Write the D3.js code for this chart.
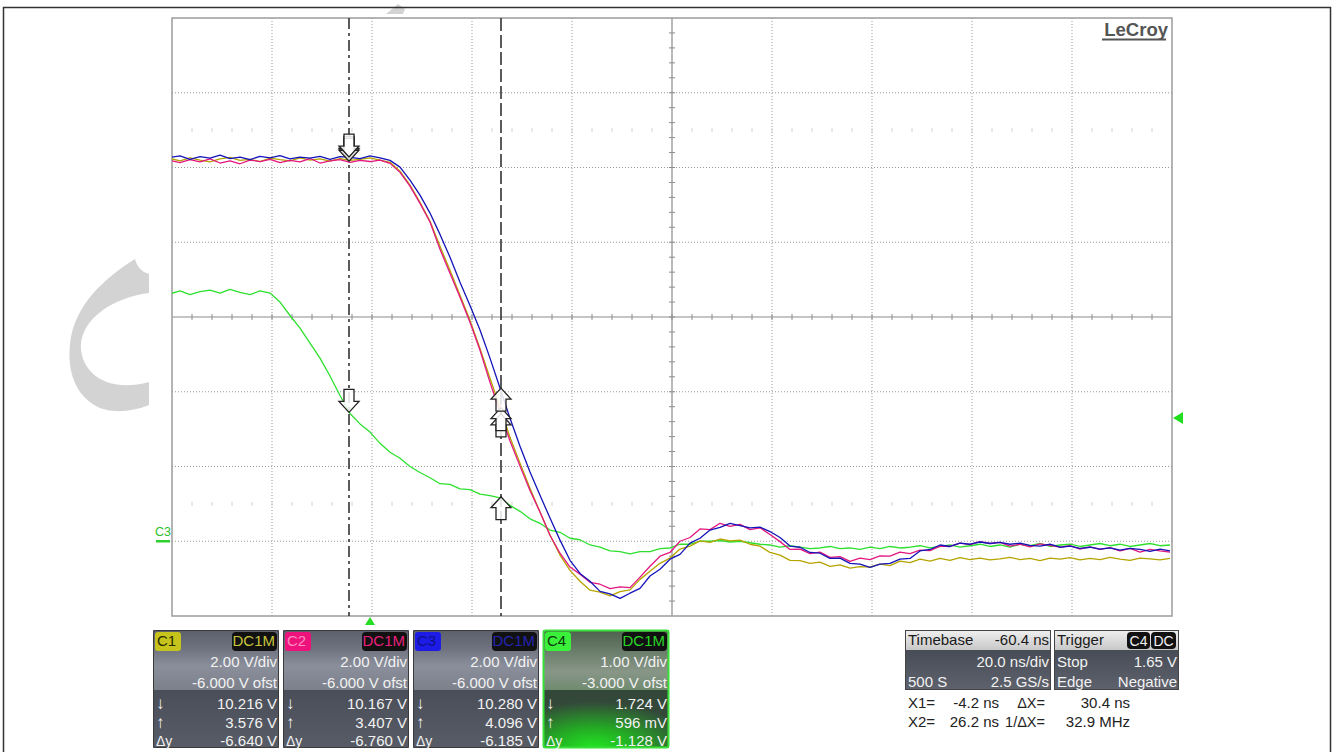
<!DOCTYPE html>
<html>
<head>
<meta charset="utf-8">
<script src="https://cdn.jsdelivr.net/npm/d3@7"></script>
<style>
    body { margin: 0; background: #fff; }
    svg { display: block; }
    text { font-family: "Liberation Sans", Arial, sans-serif; }
</style>
</head>
<body>
<div id="scope"></div>
<script>
// sample times in ns (2 ns apart), shared by all channels
var timeNs = [-40,-38,-36,-34,-32,-30,-28,-26,-24,-22,-20,-18,-16,-14,-12,-10,-8,-6,-4,-2,
    0,2,4,6,8,10,12,14,16,18,20,22,24,26,28,30,32,34,36,38,40,42,44,46,48,50,52,54,56,58,
    60,62,64,66,68,70,72,74,76,78,80,82,84,86,88,90,92,94,96,98,100,102,104,106,108,110,
    112,114,116,118,120,122,124,126,128,130,132,134,136,138,140,142,144,146,148,150,152,154,156,158,160];

// volts
var c1Volts = [10.24,10.18,10.26,10.20,10.15,10.23,10.27,10.19,10.22,10.16,10.25,10.21,10.18,10.26,10.20,10.23,10.17,10.24,10.19,10.22,10.26,10.20,
    10.14,9.90,9.53,9.07,8.56,7.89,7.25,6.58,5.91,5.16,4.36,3.59,2.78,2.09,1.42,0.78,0.16,-0.37,-0.78,-1.07,-1.31,-1.36,-1.46,-1.35,-1.30,-1.02,-0.80,-0.59,-0.45,-0.21,-0.13,0.01,-0.03,0.06,0.01,0.03,-0.08,-0.13,-0.30,-0.37,-0.51,-0.52,-0.59,-0.56,-0.67,-0.63,-0.72,-0.68,-0.69,-0.61,-0.65,-0.53,-0.57,-0.48,-0.53,
    -0.46,-0.51,-0.44,-0.49,-0.45,-0.50,-0.47,-0.43,-0.49,-0.46,-0.52,-0.45,-0.48,-0.44,-0.50,-0.46,-0.49,-0.43,-0.48,-0.51,-0.45,-0.47,-0.50,-0.46];
var c2Volts = [10.19,10.13,10.21,10.15,10.23,10.12,10.18,10.10,10.20,10.16,10.22,10.13,10.19,10.15,10.24,10.12,10.18,10.21,10.14,10.19,10.16,10.20,
    10.11,9.87,9.50,9.04,8.54,7.81,7.17,6.53,5.86,5.11,4.25,3.45,2.68,2.01,1.36,0.78,0.16,-0.32,-0.69,-0.88,-1.10,-1.15,-1.27,-1.22,-1.24,-0.96,-0.67,-0.40,-0.30,0.00,0.10,0.33,0.31,0.48,0.40,0.45,0.31,0.36,0.18,-0.01,-0.22,-0.21,-0.33,-0.29,-0.43,-0.41,-0.54,-0.45,-0.49,-0.39,-0.40,-0.29,-0.33,-0.24,-0.25,-0.13,-0.14,-0.05,-0.09,-0.01,-0.06,-0.03,-0.13,-0.08,-0.15,-0.07,-0.11,-0.16,-0.12,-0.21,-0.15,-0.22,-0.17,-0.26,-0.19,-0.29,-0.22,-0.26,-0.29];
var c3Volts = [10.27,10.31,10.22,10.29,10.25,10.33,10.24,10.28,10.21,10.30,10.26,10.32,10.23,10.28,10.25,10.30,10.22,10.29,10.27,10.24,10.31,10.26,
    10.19,10.01,9.66,9.26,8.78,8.21,7.60,6.93,6.31,5.65,4.90,4.10,3.29,2.54,1.85,1.23,0.62,0.03,-0.51,-0.86,-1.07,-1.34,-1.41,-1.53,-1.39,-1.26,-0.93,-0.75,-0.48,-0.35,-0.05,0.08,0.30,0.37,0.48,0.42,0.36,0.38,0.26,0.10,-0.13,-0.16,-0.30,-0.32,-0.46,-0.45,-0.59,-0.61,-0.70,-0.61,-0.59,-0.48,-0.46,-0.26,-0.22,-0.10,-0.14,-0.05,-0.08,
    -0.02,-0.06,-0.03,-0.08,-0.05,-0.11,-0.13,-0.08,-0.16,-0.13,-0.19,-0.16,-0.21,-0.18,-0.24,-0.19,-0.22,-0.27,-0.21,-0.26];
var c4Volts = [3.31,3.35,3.30,3.34,3.36,3.32,3.37,3.33,3.30,3.35,3.32,
    3.20,3.02,2.85,2.65,2.45,2.21,1.95,1.71,1.57,1.46,1.31,1.19,1.11,1.00,0.92,0.85,0.77,0.76,0.70,0.69,0.63,0.61,0.58,0.48,0.40,0.30,0.24,0.15,0.12,0.04,0.02,-0.05,-0.08,-0.13,-0.14,-0.17,-0.14,-0.14,-0.10,-0.09,-0.04,-0.04,0.00,0.00,
    0.01,-0.01,0.00,-0.02,-0.04,-0.05,-0.08,-0.06,-0.08,-0.10,-0.09,-0.07,-0.10,-0.09,-0.11,-0.08,-0.10,-0.07,-0.09,-0.08,-0.06,-0.09,-0.07,-0.05,-0.08,-0.06,-0.04,-0.07,-0.05,-0.08,
    -0.04,-0.06,-0.03,-0.07,-0.05,-0.04,-0.07,-0.05,-0.03,-0.06,-0.04,-0.07,-0.05,-0.03,-0.06,-0.05];

var channelNames = ["C1", "C2", "C3", "C4"];
var voltsPerDiv = [2, 2, 2, 1];
var offsetVolts = [-6, -6, -6, -3];
var voltsDivLabels = ["2.00 V/div", "2.00 V/div", "2.00 V/div", "1.00 V/div"];
var offsetLabels = ["-6.000 V ofst", "-6.000 V ofst", "-6.000 V ofst", "-3.000 V ofst"];
// cursor readings (value at X1, value at X2, difference)
var atX1 = [10.216, 10.167, 10.280, 1.724];
var atX2 = [3.576, 3.407, 4.096, 0.596];
var atX1Labels = ["10.216 V", "10.167 V", "10.280 V", "1.724 V"];
var atX2Labels = ["3.576 V", "3.407 V", "4.096 V", "596 mV"];
var deltaLabels = ["-6.640 V", "-6.760 V", "-6.185 V", "-1.128 V"];

var cursorTimes = [-4.2, 26.2];
var triggerTime = 0;
var triggerLevel = 1.65;

var timebaseRows = [["Timebase", "-60.4 ns"], ["", "20.0 ns/div"], ["500 S", "2.5 GS/s"]];
var triggerRows = [["Trigger", ""], ["Stop", "1.65 V"], ["Edge", "Negative"]];
var cursorRows = [["X1=", "-4.2 ns", "\u0394X=", "30.4 ns"], ["X2=", "26.2 ns", "1/\u0394X=", "32.9 MHz"]];

var traceColors = ["#b5a400", "#e3177f", "#1414b8", "#2ee02e"];
var labelFill = ["#c6c41c", "#ee137c", "#1c1ce6", "#3af03a"];
var labelInk = ["#2a2a00", "#ff8cc0", "#10108a", "#0c3a0c"];
var couplingInk = ["#c8c43c", "#e8207c", "#2424b0", "#2ad42a"];

var plotL = 172, plotR = 1172, plotT = 18, plotB = 616;

var svg = d3.select("#scope").append("svg")
    .attr("width", 1336)
    .attr("height", 752);

var defs = svg.append("defs");
function vgrad(id, stops) {
    var lg = defs.append("linearGradient").attr("id", id)
        .attr("x1", 0).attr("y1", 0).attr("x2", 0).attr("y2", 1);
    stops.forEach(function(s) {
        lg.append("stop").attr("offset", s[0]).attr("stop-color", s[1]);
    });
}
vgrad("upperGrey", [["0%", "#5c606c"], ["30%", "#6e727e"], ["60%", "#8b8f9b"], ["100%", "#7c808b"]]);
vgrad("lowerGrey", [["0%", "#4a4e58"], ["100%", "#585c66"]]);
vgrad("upperGreen", [["0%", "#4d604d"], ["35%", "#6a7d6a"], ["70%", "#889688"], ["100%", "#6f8a6f"]]);
vgrad("tbHead", [["0%", "#f0f0f0"], ["100%", "#c8c8c8"]]);
vgrad("tbBody", [["0%", "#3c404a"], ["45%", "#4c505a"], ["100%", "#5e626c"]]);
var rg = defs.append("radialGradient").attr("id", "lowerGreen")
    .attr("cx", "40%").attr("cy", "100%").attr("r", "80%");
rg.append("stop").attr("offset", "0%").attr("stop-color", "#22e622");
rg.append("stop").attr("offset", "45%").attr("stop-color", "#24a824");
rg.append("stop").attr("offset", "100%").attr("stop-color", "#34483a");
defs.append("clipPath").attr("id", "plotClip")
    .append("rect").attr("x", plotL).attr("y", plotT).attr("width", plotR - plotL).attr("height", plotB - plotT);

// watermark pieces
svg.append("path")
    .attr("d", "M135,259 C137,267 142,272 149,274 L149,293 C112,298 84,318 81,343 C79,370 104,394 149,382 L149,405 C130,413 108,413 96,406 C76,395 67,372 70,344 C74,306 103,279 135,259 Z")
    .attr("fill", "#d3d3d3");
svg.append("path").attr("d", "M386,14 L398,4 L405,9 L403,14 Z").attr("fill", "#d3d3d3");

// outer frame
svg.append("rect")
    .attr("x", 3.5).attr("y", 7.5)
    .attr("width", 1327).attr("height", 746)
    .attr("fill", "none").attr("stroke", "#333").attr("stroke-width", 1.5);

var x = d3.scaleLinear().domain([-39.6, 160.4]).range([plotL, plotR]);
var divX = d3.scaleLinear().domain([0, 10]).range([plotL, plotR]);
var divY = d3.scaleLinear().domain([0, 8]).range([plotT, plotB]);
var yScales = voltsPerDiv.map(function(vpd, i) {
    var mid = -offsetVolts[i];
    return d3.scaleLinear().domain([mid - 4 * vpd, mid + 4 * vpd]).range([plotB, plotT]);
});

// grid
var grid = svg.append("g");
d3.range(1, 10).filter(function(d) { return d != 5; }).forEach(function(d) {
    grid.append("line")
        .attr("x1", divX(d)).attr("x2", divX(d)).attr("y1", plotT).attr("y2", plotB)
        .attr("stroke", "#999").attr("stroke-dasharray", "1,2");
});
d3.range(1, 8).filter(function(d) { return d != 4; }).forEach(function(d) {
    grid.append("line")
        .attr("x1", plotL).attr("x2", plotR).attr("y1", divY(d)).attr("y2", divY(d))
        .attr("stroke", "#999").attr("stroke-dasharray", "1,2");
});
// faint minor marks
[1.5, 6.5].forEach(function(r) {
    d3.range(1, 50).forEach(function(k) {
        grid.append("line")
            .attr("x1", divX(k / 5)).attr("x2", divX(k / 5))
            .attr("y1", divY(r) - 2).attr("y2", divY(r) + 2)
            .attr("stroke", "#d2d2d2");
    });
});
// centre axes with minor ticks
grid.append("line").attr("x1", plotL).attr("x2", plotR).attr("y1", divY(4)).attr("y2", divY(4))
    .attr("stroke", "#8c8c8c").attr("stroke-width", 1.2);
grid.append("line").attr("x1", divX(5)).attr("x2", divX(5)).attr("y1", plotT).attr("y2", plotB)
    .attr("stroke", "#8c8c8c").attr("stroke-width", 1.2);
d3.range(1, 50).forEach(function(k) {
    grid.append("line")
        .attr("x1", divX(k / 5)).attr("x2", divX(k / 5))
        .attr("y1", divY(4) - 3).attr("y2", divY(4) + 3)
        .attr("stroke", "#8c8c8c");
});
d3.range(1, 40).forEach(function(k) {
    grid.append("line")
        .attr("x1", divX(5) - 3).attr("x2", divX(5) + 3)
        .attr("y1", divY(k / 5)).attr("y2", divY(k / 5))
        .attr("stroke", "#8c8c8c");
});

// plot border
svg.append("rect")
    .attr("x", plotL).attr("y", plotT).attr("width", plotR - plotL).attr("height", plotB - plotT)
    .attr("fill", "none").attr("stroke", "#9c9c9c").attr("stroke-width", 1.5);

// LeCroy logo
svg.append("text")
    .attr("x", 1168).attr("y", 36)
    .attr("text-anchor", "end")
    .attr("font-size", 18.5).attr("font-weight", "bold")
    .attr("fill", "#555")
    .text("LeCroy");
svg.append("rect").attr("x", 1102).attr("y", 38.5).attr("width", 64).attr("height", 2).attr("fill", "#555");

// traces
var series = [c1Volts, c2Volts, c3Volts, c4Volts];
var traces = svg.append("g").attr("clip-path", "url(#plotClip)");
[3, 0, 1, 2].forEach(function(ch) {
    var line = d3.line()
        .x(function(d, i) { return x(timeNs[i]); })
        .y(function(d) { return yScales[ch](d); });
    traces.append("path")
        .datum(series[ch])
        .attr("d", line)
        .attr("fill", "none")
        .attr("stroke", traceColors[ch])
        .attr("stroke-width", 1.3)
        .attr("stroke-linejoin", "round");
});

// cursors
svg.append("line")
    .attr("x1", x(cursorTimes[0])).attr("x2", x(cursorTimes[0]))
    .attr("y1", plotT).attr("y2", plotB)
    .attr("stroke", "#333").attr("stroke-width", 1.6)
    .attr("stroke-dasharray", "11,4,3,4");
svg.append("line")
    .attr("x1", x(cursorTimes[1])).attr("x2", x(cursorTimes[1]))
    .attr("y1", plotT).attr("y2", plotB)
    .attr("stroke", "#333").attr("stroke-width", 1.6)
    .attr("stroke-dasharray", "13,4");

// hollow arrows, tip on the measured value
function arrow(cx, cy, dir) {
    var s = dir; // 1 = pointing down, -1 = pointing up
    var pts = [[0, 0], [-10, -11 * s], [-5, -11 * s], [-5, -23 * s], [5, -23 * s], [5, -11 * s], [10, -11 * s]];
    svg.append("path")
        .attr("d", "M" + pts.map(function(p) { return (cx + p[0]) + "," + (cy + p[1]); }).join("L") + "Z")
        .attr("fill", "#fff").attr("fill-opacity", 0.85)
        .attr("stroke", "#222").attr("stroke-width", 1.3);
}
[0, 1, 2, 3].forEach(function(ch) {
    arrow(x(cursorTimes[0]), yScales[ch](atX1[ch]), 1);
});
[3, 1, 0, 2].forEach(function(ch) {
    arrow(x(cursorTimes[1]), yScales[ch](atX2[ch]), -1);
});

// ground marker
var gnd = yScales[3](0);
svg.append("line").attr("x1", 156).attr("x2", 170).attr("y1", gnd).attr("y2", gnd)
    .attr("stroke", "#2ed02e").attr("stroke-width", 2.5);
svg.append("text").attr("x", 155).attr("y", gnd - 5)
    .attr("font-size", 12.5).attr("fill", "#2ec02e").text("C3");

// trigger markers
var tx = x(triggerTime);
svg.append("path")
    .attr("d", "M" + tx + "," + (plotB + 1) + "L" + (tx - 5) + "," + (plotB + 9) + "L" + (tx + 5) + "," + (plotB + 9) + "Z")
    .attr("fill", "#22dd22");
var ty = yScales[3](triggerLevel);
svg.append("path")
    .attr("d", "M" + (plotR + 1) + "," + ty + "L" + (plotR + 11) + "," + (ty - 6) + "L" + (plotR + 11) + "," + (ty + 6) + "Z")
    .attr("fill", "#22dd22");

// channel panels
channelNames.forEach(function(name, i) {
    var x0 = 153 + i * 130, w = 126;
    var green = (i == 3);
    var g = svg.append("g").attr("transform", "translate(" + x0 + ",630)");
    g.append("rect").attr("width", w).attr("height", 60)
        .attr("fill", green ? "url(#upperGreen)" : "url(#upperGrey)");
    g.append("rect").attr("y", 60).attr("width", w).attr("height", 58)
        .attr("fill", green ? "url(#lowerGreen)" : "url(#lowerGrey)");
    g.append("rect").attr("x", 0.5).attr("y", 0.5).attr("width", w - 1).attr("height", 117)
        .attr("rx", 2).attr("fill", "none")
        .attr("stroke", green ? "#38e038" : "#3a3a3a").attr("stroke-width", green ? 2 : 1);

    g.append("rect").attr("x", 2).attr("y", 2).attr("width", 26).attr("height", 19).attr("rx", 3)
        .attr("fill", labelFill[i]);
    g.append("text").attr("x", 4).attr("y", 16).attr("font-size", 15)
        .attr("fill", labelInk[i]).text(name);
    g.append("rect").attr("x", 79).attr("y", 2).attr("width", 45).attr("height", 19).attr("rx", 4)
        .attr("fill", "#111");
    g.append("text").attr("x", 122).attr("y", 16).attr("font-size", 15).attr("text-anchor", "end")
        .attr("fill", couplingInk[i]).text("DC1M");

    var rows = [voltsDivLabels[i], offsetLabels[i], atX1Labels[i], atX2Labels[i], deltaLabels[i]];
    var base = [37, 58, 79, 98, 116];
    rows.forEach(function(t, r) {
        g.append("text").attr("x", 124).attr("y", base[r]).attr("font-size", 15)
            .attr("text-anchor", "end").attr("fill", "#f2f2f2").text(t);
    });
    ["\u2193", "\u2191", "\u0394y"].forEach(function(t, r) {
        g.append("text").attr("x", 3).attr("y", base[r + 2]).attr("font-size", r < 2 ? 17 : 14)
            .attr("fill", "#f2f2f2").text(t);
    });
});

// timebase and trigger boxes
function infoBox(x0, w, rows) {
    var g = svg.append("g").attr("transform", "translate(" + x0 + ",630)");
    g.append("rect").attr("width", w).attr("height", 60).attr("fill", "url(#tbBody)");
    g.append("rect").attr("width", w).attr("height", 20).attr("fill", "url(#tbHead)");
    g.append("rect").attr("x", 0.5).attr("y", 0.5).attr("width", w - 1).attr("height", 59)
        .attr("fill", "none").attr("stroke", "#444");
    var base = [15, 37, 57];
    rows.forEach(function(r, k) {
        var ink = k == 0 ? "#1a1a1a" : "#f2f2f2";
        g.append("text").attr("x", 3).attr("y", base[k]).attr("font-size", 15)
            .attr("fill", ink).text(r[0]);
        g.append("text").attr("x", w - 2).attr("y", base[k]).attr("font-size", 15)
            .attr("text-anchor", "end").attr("fill", ink).text(r[1]);
    });
    return g;
}
infoBox(905, 146, timebaseRows);
var trig = infoBox(1054, 125, triggerRows);
[["C4", 73, 23], ["DC", 97, 25]].forEach(function(b) {
    trig.append("rect").attr("x", b[1]).attr("y", 2).attr("width", b[2]).attr("height", 17).attr("rx", 4)
        .attr("fill", "#111");
    trig.append("text").attr("x", b[1] + b[2] / 2).attr("y", 15.5).attr("font-size", 14)
        .attr("text-anchor", "middle").attr("fill", "#f2f2f2").text(b[0]);
});

// cursor readout
cursorRows.forEach(function(r, k) {
    var yb = 708 + k * 19;
    svg.append("text").attr("x", 908).attr("y", yb).attr("font-size", 15).attr("fill", "#222").text(r[0]);
    svg.append("text").attr("x", 999).attr("y", yb).attr("font-size", 15).attr("fill", "#222")
        .attr("text-anchor", "end").text(r[1]);
    svg.append("text").attr("x", 1045).attr("y", yb).attr("font-size", 14.5).attr("fill", "#222")
        .attr("text-anchor", "end").text(r[2]);
    svg.append("text").attr("x", 1130).attr("y", yb).attr("font-size", 15).attr("fill", "#222")
        .attr("text-anchor", "end").text(r[3]);
});
</script>
</body>
</html>
